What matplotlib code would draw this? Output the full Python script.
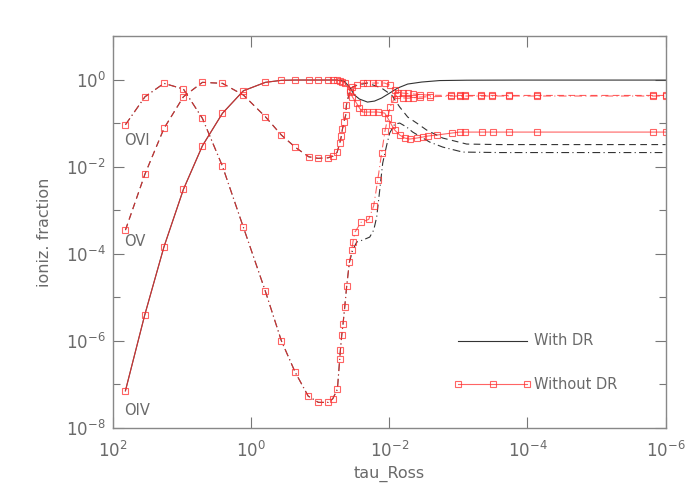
import numpy as np
import matplotlib
matplotlib.use('Agg')
import matplotlib.pyplot as plt

# 所有数值均为 log10 形式: lt = log10(tau_Ross), lf = log10(电离分数)

# --- Without DR (红色, 带方块标记) ---
oiv_nodr_lt = [1.816, 1.537, 1.258, 0.977, 0.702, 0.413, 0.109, -0.209, -0.440, -0.643,
               -0.836, -0.971, -1.115, -1.188, -1.246, -1.284, -1.323, -1.356, -1.426, -1.469,
               -1.527, -1.570, -1.614, -1.686, -1.759, -1.831, -1.935, -1.979, -2.036, -2.080,
               -2.152, -2.224, -2.297, -2.398, -2.485, -2.557, -2.687, -2.904, -3.020, -3.092,
               -3.338, -3.497, -3.729, -4.134, -5.812, -6.0]
oiv_nodr_lf = [-7.146, -5.408, -3.839, -2.521, -1.520, -0.776, -0.257, -0.064, -0.018, -0.011,
               -0.011, -0.011, -0.011, -0.011, -0.011, -0.028, -0.050, -0.073, -0.241, -0.402,
               -0.540, -0.654, -0.746, -0.746, -0.746, -0.746, -0.769, -0.884, -1.045, -1.160,
               -1.274, -1.343, -1.366, -1.343, -1.320, -1.297, -1.274, -1.228, -1.206, -1.206,
               -1.206, -1.206, -1.206, -1.206, -1.206, -1.206]

ov_nodr_lt = [1.816, 1.533, 1.258, 0.977, 0.702, 0.413, 0.109, -0.209, -0.440, -0.643,
              -0.836, -0.971, -1.115, -1.188, -1.246, -1.284, -1.308, -1.323, -1.346, -1.371,
              -1.381, -1.426, -1.469, -1.541, -1.614, -1.686, -1.759, -1.831, -1.935, -2.007,
              -2.080, -2.123, -2.195, -2.268, -2.340, -2.441, -2.586, -2.900, -3.020, -3.092,
              -3.334, -3.493, -3.729, -4.134, -5.812, -6.0]
ov_nodr_lf = [-3.456, -2.170, -1.121, -0.395, -0.064, -0.087, -0.356, -0.854, -1.274, -1.557,
              -1.773, -1.809, -1.796, -1.757, -1.672, -1.465, -1.297, -1.144, -0.969, -0.815,
              -0.586, -0.287, -0.172, -0.126, -0.080, -0.080, -0.080, -0.080, -0.080, -0.126,
              -0.241, -0.310, -0.310, -0.320, -0.330, -0.345, -0.360, -0.365, -0.365, -0.365,
              -0.365, -0.365, -0.365, -0.365, -0.365, -0.365]

ovi_nodr_lt = [1.816, 1.533, 1.258, 0.977, 0.702, 0.413, 0.109, -0.209, -0.440, -0.637,
               -0.828, -0.976, -1.115, -1.183, -1.251, -1.284, -1.294, -1.313, -1.332, -1.356,
               -1.385, -1.424, -1.458, -1.476, -1.505, -1.592, -1.704, -1.776, -1.834, -1.891,
               -1.939, -2.012, -2.069, -2.113, -2.195, -2.268, -2.340, -2.441, -2.586, -2.900,
               -3.020, -3.092, -3.334, -3.493, -3.729, -4.134, -5.812, -6.0]
ovi_nodr_lf = [-1.038, -0.395, -0.087, -0.218, -0.891, -1.986, -3.394, -4.863, -5.998, -6.710,
               -7.268, -7.412, -7.412, -7.330, -7.107, -6.418, -6.211, -5.874, -5.614, -5.231,
               -4.742, -4.197, -3.908, -3.724, -3.502, -3.279, -3.210, -2.898, -2.308, -1.681,
               -1.183, -0.631, -0.448, -0.349, -0.420, -0.430, -0.420, -0.400, -0.395, -0.380,
               -0.378, -0.378, -0.378, -0.378, -0.378, -0.378, -0.378, -0.378]

# --- With DR (黑色, 与红线在内部重合, 外部分叉) ---
oiv_dr_lt = [1.816, 1.537, 1.258, 0.977, 0.702, 0.413, 0.109, -0.209, -0.440, -0.643,
             -0.836, -1.115, -1.246, -1.323, -1.356, -1.426, -1.498, -1.570, -1.686, -1.788,
             -1.889, -2.007, -2.123, -2.268, -2.470, -2.730, -3.121, -3.888, -6.0]
oiv_dr_lf = [-7.146, -5.408, -3.839, -2.521, -1.520, -0.776, -0.257, -0.064, -0.018, -0.011,
             -0.011, -0.011, -0.011, -0.030, -0.050, -0.172, -0.356, -0.448, -0.517, -0.494,
             -0.425, -0.310, -0.195, -0.103, -0.057, -0.023, -0.015, -0.012, -0.012]

ov_dr_lt = [1.816, 1.533, 1.258, 0.977, 0.702, 0.413, 0.109, -0.209, -0.440, -0.643,
            -0.836, -0.971, -1.115, -1.188, -1.246, -1.284, -1.308, -1.323, -1.346, -1.371,
            -1.381, -1.426, -1.469, -1.541, -1.686, -1.889, -2.036, -2.152, -2.268, -2.398,
            -2.542, -2.774, -3.121, -3.599, -6.0]
ov_dr_lf = [-3.456, -2.170, -1.121, -0.395, -0.064, -0.087, -0.356, -0.854, -1.274, -1.557,
            -1.773, -1.809, -1.796, -1.757, -1.672, -1.465, -1.297, -1.144, -0.969, -0.815,
            -0.586, -0.287, -0.172, -0.126, -0.080, -0.195, -0.356, -0.631, -0.861, -0.999,
            -1.160, -1.343, -1.481, -1.493, -1.493]

ovi_dr_lt = [1.816, 1.533, 1.258, 0.977, 0.702, 0.413, 0.109, -0.209, -0.440, -0.637,
             -0.828, -0.976, -1.115, -1.183, -1.251, -1.284, -1.294, -1.313, -1.332, -1.356,
             -1.385, -1.424, -1.472, -1.530, -1.617, -1.718, -1.776, -1.819, -1.863, -1.906,
             -1.964, -2.007, -2.080, -2.152, -2.253, -2.340, -2.586, -2.774, -3.063, -3.599, -6.0]
ovi_dr_lf = [-1.038, -0.395, -0.087, -0.218, -0.891, -1.986, -3.394, -4.863, -5.998, -6.710,
             -7.268, -7.412, -7.412, -7.330, -7.107, -6.418, -6.211, -5.874, -5.614, -5.231,
             -4.742, -4.197, -3.914, -3.731, -3.685, -3.617, -3.456, -3.157, -2.537, -1.917,
             -1.504, -1.228, -1.022, -0.999, -1.091, -1.206, -1.435, -1.550, -1.665, -1.676, -1.676]

# 离子标注
ion_labels = ['OVI', 'OV', 'OIV']
ion_label_lt = [1.84, 1.84, 1.84]
ion_label_lf = [-1.40, -3.72, -7.60]

# 图例 (画在数据坐标里)
legend_lt = [-3.0, -3.5, -4.0]
legend_lf = [-6.0, -7.0]
legend_text = ['With DR', 'Without DR']

GRAY = '#6a6a6a'
RED = '#ff3030'

fig = plt.figure(figsize=(7, 5), dpi=100)
ax = fig.add_axes([0.161, 0.144, 0.790, 0.784])

p = lambda a: 10 ** np.array(a)

black_kw = dict(color='#333333', linewidth=0.8)
ax.plot(p(oiv_dr_lt), p(oiv_dr_lf), linestyle='-', **black_kw)
ax.plot(p(ov_dr_lt), p(ov_dr_lf), linestyle=(0, (6, 4)), **black_kw)
ax.plot(p(ovi_dr_lt), p(ovi_dr_lf), linestyle=(0, (7, 3, 1, 3)), **black_kw)

red_kw = dict(color=RED, linewidth=0.8, marker='s', markersize=4.5,
              markerfacecolor='none', markeredgewidth=0.8, alpha=0.75)
ax.plot(p(oiv_nodr_lt), p(oiv_nodr_lf), linestyle='-', **red_kw)
ax.plot(p(ov_nodr_lt), p(ov_nodr_lf), linestyle=(0, (6, 4)), **red_kw)
ax.plot(p(ovi_nodr_lt), p(ovi_nodr_lf), linestyle=(0, (7, 3, 1, 3)), **red_kw)

for lab, lx, ly in zip(ion_labels, ion_label_lt, ion_label_lf):
    ax.text(10 ** lx, 10 ** ly, lab, color=GRAY, fontsize=10.5, ha='left', va='center')

# 图例
ax.plot(p(legend_lt[::2]), p([legend_lf[0]] * 2), color='#333333', linewidth=0.8)
ax.plot(p(legend_lt), p([legend_lf[1]] * 3), color=RED, linewidth=0.8, marker='s',
        markersize=4.5, markerfacecolor='none', markeredgewidth=0.8, alpha=0.75)
for t, ly in zip(legend_text, legend_lf):
    ax.text(10 ** -4.1, 10 ** ly, t, color=GRAY, fontsize=10.5, ha='left', va='center')

ax.set_xscale('log')
ax.set_yscale('log')
ax.set_xlim(1e2, 1e-6)
ax.set_ylim(1e-8, 1e1)

ax.set_xticks([1e2, 1e0, 1e-2, 1e-4, 1e-6])
ax.set_xticklabels([r'$10^{2}$', r'$10^{0}$', r'$10^{-2}$', r'$10^{-4}$', r'$10^{-6}$'])
ax.xaxis.set_minor_locator(matplotlib.ticker.NullLocator())
ax.set_yticks([1e-8, 1e-6, 1e-4, 1e-2, 1e0])
ax.set_yticklabels([r'$10^{-8}$', r'$10^{-6}$', r'$10^{-4}$', r'$10^{-2}$', r'$10^{0}$'])
ax.set_yticks([1e-7, 1e-5, 1e-3, 1e-1, 1e1], minor=True)
ax.yaxis.set_minor_formatter(matplotlib.ticker.NullFormatter())

ax.tick_params(which='both', direction='in', top=True, right=True, colors='#777777',
               labelsize=12, labelcolor=GRAY, width=0.8)
ax.tick_params(which='major', length=8)
ax.tick_params(axis='x', which='major', pad=9)
ax.tick_params(axis='y', which='major', pad=5)
ax.tick_params(which='minor', length=5)
for s in ax.spines.values():
    s.set_color('#888888')
    s.set_linewidth(1.0)

ax.set_xlabel('tau_Ross', color=GRAY, fontsize=11.5, labelpad=4)
ax.set_ylabel('ioniz. fraction', color=GRAY, fontsize=11.5, labelpad=10)

plt.savefig('out.png', dpi=100, facecolor='white')
plt.close()
